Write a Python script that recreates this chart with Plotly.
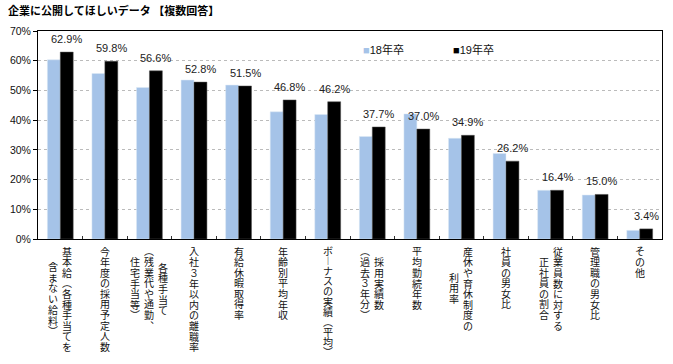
import plotly.graph_objects as go

title = "企業に公開してほしいデータ 【複数回答】"
series_names = ["18年卒", "19年卒"]
categories = [
    "基本給（各種手当てを含まない給料）",
    "今年度の採用予定人数",
    "各種手当て（残業代や通勤、住宅手当等）",
    "入社3年以内の離職率",
    "有給休暇取得率",
    "年齢別平均年収",
    "ボーナスの実績（平均）",
    "採用実績数（過去3年分）",
    "平均勤続年数",
    "産休や育休制度の利用率",
    "社員の男女比",
    "従業員数に対する正社員の割合",
    "管理職の男女比",
    "その他",
]
# vertical label columns (right-to-left reading order)
label_columns = [
    ["基本給（各種手当てを", "含まない給料）"],
    ["今年度の採用予定人数"],
    ["各種手当て", "（残業代や通勤、", "住宅手当等）"],
    ["入社３年以内の離職率"],
    ["有給休暇取得率"],
    ["年齢別平均年収"],
    ["ボーナスの実績（平均）"],
    ["採用実績数", "（過去３年分）"],
    ["平均勤続年数"],
    ["産休や育休制度の", "利用率"],
    ["社員の男女比"],
    ["従業員数に対する", "正社員の割合"],
    ["管理職の男女比"],
    ["その他"],
]
values_18 = [60.3, 55.7, 51.0, 53.5, 51.8, 42.8, 41.9, 34.5, 42.1, 33.9, 28.8, 16.4, 14.8, 2.9]
values_19 = [62.9, 59.8, 56.6, 52.8, 51.5, 46.8, 46.2, 37.7, 37.0, 34.9, 26.2, 16.4, 15.0, 3.4]
y_ticks = [0, 10, 20, 30, 40, 50, 60, 70]
y_ticktext = [f"{v}%" for v in y_ticks]

color_18 = "#A5C3E8"
color_19 = "#000000"
num_font = "Liberation Sans, Arial, Noto Sans CJK JP"
jp_font = "Noto Sans CJK JP, Liberation Sans"
label_font = "Liberation Sans, Noto Sans CJK JP"

W, H = 673, 364
L, R, T, B = 35, 10, 31, 125
plot_bottom_px = H - B
plot_w = W - L - R
plot_h = H - T - B

fig = go.Figure()
fig.add_trace(go.Bar(x=categories, y=values_18, name=series_names[0],
                     marker=dict(color=color_18, line=dict(color="#DDE8F5", width=0.5))))
fig.add_trace(go.Bar(x=categories, y=values_19, name=series_names[1],
                     marker=dict(color=color_19, line=dict(color="#555555", width=0.5))))

annotations = []
# value labels over 19年卒 bars
for c, v in zip(categories, values_19):
    annotations.append(dict(x=c, y=v, xref="x", yref="y", text=f"{v:.1f}%",
                            showarrow=False, xshift=6.5, yshift=13, yanchor="middle",
                            font=dict(family=num_font, size=11, color="#222222")))

# vertical category labels (one glyph per annotation, stacked top-to-bottom)
vert_map = {"（": "︵", "）": "︶", "、": "︑", "ー": "︱"}
pitch_max = 10.6
top_px = 246.5
bottom_limit = 357.5
col_gap = 14

for c, cols in zip(categories, label_columns):
    n = len(cols)
    maxlen = max(len(s) for s in cols)
    pitch = min(pitch_max, (bottom_limit - top_px) / maxlen)
    for ci, col in enumerate(cols):
        xs = ((n - 1) / 2 - ci) * col_gap
        off = (maxlen - len(col)) / 2
        for i, ch in enumerate(col):
            cy = top_px + pitch * (off + i + 0.5)
            annotations.append(dict(x=c, y=0, xref="x", yref="paper",
                                    text=vert_map.get(ch, ch), showarrow=False,
                                    xanchor="center", yanchor="middle",
                                    xshift=xs, yshift=-(cy - plot_bottom_px), borderpad=0,
                                    font=dict(family=label_font, size=10, color="#111111")))

# legend as annotations
legend_items = [(series_names[0], color_18, 360), (series_names[1], color_19, 451)]
for name, col, px in legend_items:
    annotations.append(dict(x=(px - L) / plot_w, y=(plot_bottom_px - 49) / plot_h,
                            xref="paper", yref="paper", xanchor="left", yanchor="middle",
                            text=f"<span style='color:{col}'>■</span>{name}", showarrow=False,
                            font=dict(family=num_font, size=11, color="#111111")))

# title
annotations.append(dict(x=(3 - L) / plot_w, y=(plot_bottom_px - 10) / plot_h,
                        xref="paper", yref="paper", text=f"<b>{title}</b>",
                        showarrow=False, xanchor="left", yanchor="middle",
                        font=dict(family=jp_font, size=11, color="#000000")))

fig.update_layout(
    width=W, height=H,
    margin=dict(l=L, r=R, t=T, b=B, pad=0),
    barmode="group", bargap=0.42, bargroupgap=0,
    plot_bgcolor="white", paper_bgcolor="white",
    showlegend=False,
    annotations=annotations,
)
fig.update_xaxes(showticklabels=False, ticks="inside", ticklen=3, tickcolor="#333333",
                 tickson="boundaries", showline=True, linecolor="#000000", linewidth=1,
                 mirror=True, showgrid=False)
fig.update_yaxes(range=[0, 70], tickvals=y_ticks, ticktext=y_ticktext, ticks="outside",
                 ticklen=4, tickcolor="#000000", showline=True, linecolor="#000000",
                 linewidth=1, mirror=True, showgrid=True, gridcolor="#BBBBBB",
                 griddash="dot", gridwidth=1,
                 tickfont=dict(family=num_font, size=10.5, color="#111111"))

fig.write_html("out.html", config={"displayModeBar": False},
               post_script="document.body.style.margin='0';document.body.style.overflow='hidden';")
